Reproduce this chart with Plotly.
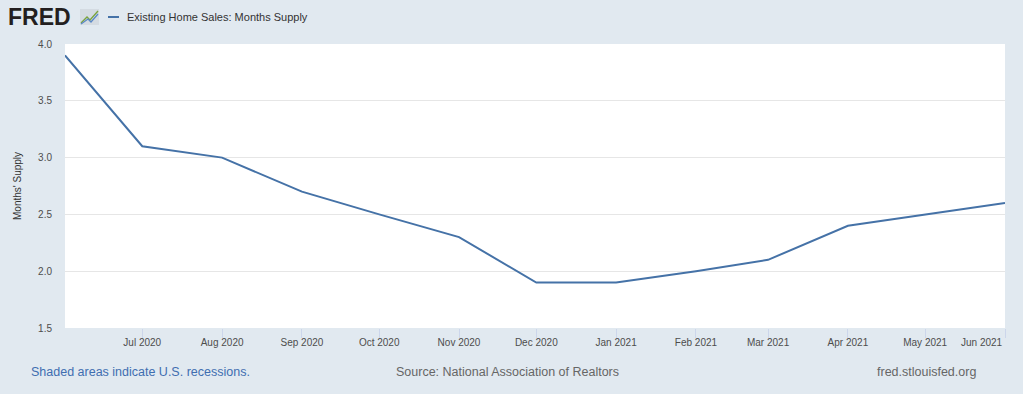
import plotly.graph_objects as go

dates = ["2020-06-01", "2020-07-01", "2020-08-01", "2020-09-01", "2020-10-01", "2020-11-01",
         "2020-12-01", "2021-01-01", "2021-02-01", "2021-03-01", "2021-04-01", "2021-05-01", "2021-06-01"]
months_supply = [3.9, 3.1, 3.0, 2.7, 2.5, 2.3, 1.9, 1.9, 2.0, 2.1, 2.4, 2.5, 2.6]
tick_dates = dates[1:-1]
tick_labels = ["Jul 2020", "Aug 2020", "Sep 2020", "Oct 2020", "Nov 2020", "Dec 2020",
               "Jan 2021", "Feb 2021", "Mar 2021", "Apr 2021", "May 2021"]
last_label = "Jun 2021"
series_name = "Existing Home Sales: Months Supply"
y_title = "Months' Supply"

W, H = 1023, 394
L, R, T, B = 65, 1005, 44, 328
PW, PH = R - L, B - T

def px(x):
    return (x - L) / PW

def py(y):
    return (B - y) / PH

FONT = "Liberation Sans, Arial, sans-serif"
BG = "#e1e9f0"
LINE = "#4572a7"
TICKC = "#4d4d4d"

fig = go.Figure()
fig.add_trace(go.Scatter(x=dates, y=months_supply, mode="lines", name=series_name,
                         line=dict(color=LINE, width=2), showlegend=False))

fig.update_layout(
    width=W, height=H,
    margin=dict(l=L, r=W - R, t=T, b=H - B, pad=0),
    paper_bgcolor=BG, plot_bgcolor="white",
    font=dict(family=FONT, color="#666666", size=10),
    xaxis=dict(
        range=[dates[0], dates[-1]], tickmode="array", tickvals=tick_dates + [dates[-1]],
        ticktext=tick_labels + [""], showgrid=False, zeroline=False,
        ticks="outside", ticklen=9, tickcolor="#ccd6eb", tickwidth=1,
        ticklabelstandoff=-4,
        tickfont=dict(size=10, color=TICKC), showline=False, fixedrange=True,
    ),
    yaxis=dict(
        range=[1.5, 4.0], tickmode="array", tickvals=[1.5, 2.0, 2.5, 3.0, 3.5, 4.0],
        tickformat=".1f", showgrid=True, gridcolor="#e6e6e6", gridwidth=1, zeroline=False,
        ticks="", ticklabelstandoff=12, tickfont=dict(size=10, color=TICKC), showline=False,
    ),
    showlegend=False,
)

annotations = [
    dict(x=dates[-1], y=py(342), xref="x", yref="paper", text=last_label, showarrow=False,
         xanchor="right", yanchor="middle", font=dict(size=10, color=TICKC)),
    dict(x=px(17), y=0.5, xref="paper", yref="paper", text=y_title, showarrow=False,
         textangle=-90, xanchor="center", yanchor="middle", font=dict(size=10, color="#333333")),
    dict(x=px(6), y=py(17), xref="paper", yref="paper", text="<b>FRED</b>", showarrow=False,
         xanchor="left", yanchor="middle", font=dict(size=23, color="#231f20", family="Liberation Sans, Arial")),
    dict(x=px(125), y=py(17), xref="paper", yref="paper", text=series_name, showarrow=False,
         xanchor="left", yanchor="middle", font=dict(size=11, color="#333333")),
    dict(x=px(29), y=py(372), xref="paper", yref="paper", text="Shaded areas indicate U.S. recessions.",
         showarrow=False, xanchor="left", yanchor="middle", font=dict(size=12.5, color="#3f6eb0")),
    dict(x=px(507), y=py(372), xref="paper", yref="paper", text="Source: National Association of Realtors",
         showarrow=False, xanchor="center", yanchor="middle", font=dict(size=12.5, color="#666666")),
    dict(x=px(978), y=py(372), xref="paper", yref="paper", text="fred.stlouisfed.org",
         showarrow=False, xanchor="right", yanchor="middle", font=dict(size=12.5, color="#666666")),
]
fig.update_layout(annotations=annotations)

shapes = [
    dict(type="line", xref="paper", yref="paper", x0=px(108), x1=px(119), y0=py(17), y1=py(17),
         line=dict(color=LINE, width=2)),
    dict(type="rect", xref="paper", yref="paper", x0=px(80), x1=px(99), y0=py(25), y1=py(9),
         line=dict(width=0), fillcolor="#d4dbe2"),
    dict(type="path", xref="paper", yref="paper",
         path=f"M {px(81)},{py(23)} L {px(87)},{py(17)} L {px(90)},{py(20)} L {px(98)},{py(11)}",
         line=dict(color="#7aa33c", width=1.3)),
    dict(type="path", xref="paper", yref="paper",
         path=f"M {px(81)},{py(24)} L {px(88)},{py(19)} L {px(91)},{py(22)} L {px(98)},{py(14)}",
         line=dict(color="#5a88c6", width=1.3)),
]
fig.update_layout(shapes=shapes)

fig.write_html("out.html", config={"displayModeBar": False},
               post_script="document.body.style.margin='0';document.body.style.padding='0';document.body.style.overflow='hidden';")
